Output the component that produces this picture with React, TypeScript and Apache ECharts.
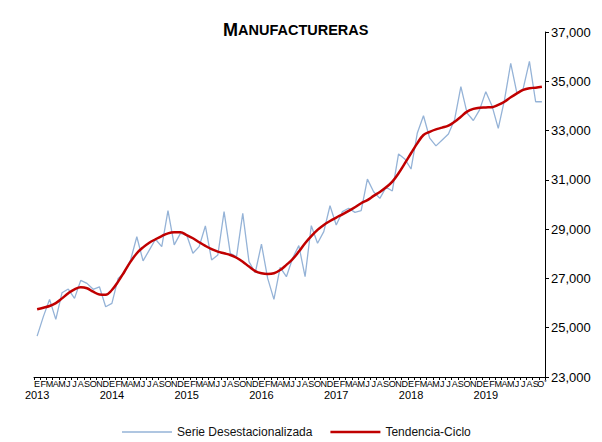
import React, { useEffect, useRef } from "react";
import * as echarts from "echarts";

const years = ["2013", "2014", "2015", "2016", "2017", "2018", "2019"];
const monthLetters = ["E", "F", "M", "A", "M", "J", "J", "A", "S", "O", "N", "D"];

const serieDesest = [
  24660, 25450, 26150, 25340, 26420, 26570, 26190, 26920, 26800, 26560, 26660, 25850,
  25990, 27000, 27230, 27750, 28690, 27710, 28150, 28590, 28290, 29750, 28360, 28830,
  28760, 28020, 28290, 29130, 27750, 27950, 29710, 28020, 27880, 29640, 27680, 27230,
  28390, 27000, 26150, 27450, 27070, 27820, 28330, 27070, 29140, 28430, 28900, 29950,
  29170, 29710, 29850, 29680, 29750, 31030, 30520, 30250, 30700, 30550, 32050, 31850,
  31440, 32890, 33600, 32690, 32380, 32620, 32860, 33450, 34780, 33710, 33410, 33840,
  34580, 34000, 33090, 34250, 35730, 34510, 34700, 35810, 34170, 34170,
];

const tendenciaCiclo = [
  25750, 25810, 25880, 26000, 26190, 26400, 26560, 26640, 26600, 26460, 26350, 26340,
  26530, 26870, 27270, 27680, 28020, 28260, 28450, 28590, 28720, 28830, 28870, 28870,
  28760, 28630, 28470, 28320, 28190, 28090, 28020, 27950, 27840, 27680, 27480, 27300,
  27210, 27180, 27210, 27340, 27550, 27780, 28090, 28430, 28720, 28970, 29170, 29330,
  29470, 29600, 29740, 29890, 30050, 30180, 30350, 30510, 30700, 30930, 31270, 31670,
  32080, 32480, 32820, 32950, 33050, 33120, 33200, 33360, 33560, 33770, 33880, 33930,
  33940, 33950, 34040, 34170, 34350, 34510, 34650, 34720, 34740, 34780,
];

const categories: string[] = serieDesest.map((_, i) => {
  const y = years[Math.floor(i / 12)];
  return `${y}-${i % 12}`;
});

const FONT = "'Liberation Sans', Arial, sans-serif";

export default function App() {
  const ref = useRef<HTMLDivElement>(null);
  useEffect(() => {
    if (!ref.current) return;
    const chart = echarts.init(ref.current, undefined, { renderer: "svg" });
    const lastIdx = categories.length - 1;
    chart.setOption({
      animation: false,
      backgroundColor: "#ffffff",
      title: {
        text: "{a|M}{b|ANUFACTURERAS}",
        left: 218,
        top: 16,
        textStyle: {
          rich: {
            a: { fontSize: 18, fontWeight: "bold", color: "#000", fontFamily: FONT },
            b: { fontSize: 14.5, fontWeight: "bold", color: "#000", fontFamily: FONT },
          },
        },
      },
      legend: {
        left: 117,
        top: 421,
        itemWidth: 50,
        itemHeight: 3,
        itemGap: 18,
        symbolKeepAspect: true,
        textStyle: { fontFamily: FONT, fontSize: 12, color: "#111" },
        data: [
          {
            name: "Serie Desestacionalizada",
            icon: "path://M0,0H50V1.3H0Z",
            itemStyle: { color: "#95B3D7" },
          },
          {
            name: "Tendencia-Ciclo",
            icon: "path://M0,0H50V2.5H0Z",
            itemStyle: { color: "#C00000" },
          },
        ],
      },
      grid: { left: 34, right: 57, top: 32, bottom: 65 },
      xAxis: [
        {
          type: "category",
          data: categories,
          boundaryGap: true,
          axisLine: { show: true, lineStyle: { color: "#000", width: 1 } },
          axisTick: { show: true, interval: 0, length: 3, lineStyle: { color: "#000" } },
          axisLabel: {
            interval: 0,
            margin: 2,
            fontSize: 9,
            fontFamily: FONT,
            color: "#000",
            formatter: (_v: string, idx: number) => {
              const l = monthLetters[idx % 12];
              return idx === lastIdx ? "{m|" + l + "}{s|*}" : l;
            },
            rich: {
              m: { fontSize: 9, fontFamily: FONT, color: "#000" },
              s: { fontSize: 6, fontFamily: FONT, color: "#000", verticalAlign: "top" },
            },
          },
        },
        {
          type: "category",
          data: categories,
          position: "bottom",
          boundaryGap: true,
          axisLine: { show: false },
          axisTick: { show: false },
          axisLabel: {
            interval: 0,
            margin: 12,
            fontSize: 11,
            fontFamily: FONT,
            color: "#000",
            formatter: (_v: string, idx: number) => (idx % 12 === 0 ? years[idx / 12] : ""),
          },
        },
      ],
      yAxis: {
        type: "value",
        position: "right",
        min: 23000,
        max: 37000,
        interval: 2000,
        splitLine: { show: false },
        axisLine: { show: true, lineStyle: { color: "#000", width: 1 } },
        axisTick: { show: true, inside: false, length: 4, lineStyle: { color: "#000" } },
        axisLabel: {
          margin: 6,
          fontSize: 13,
          fontFamily: FONT,
          color: "#000",
          formatter: (v: number) => v.toLocaleString("en-US"),
        },
      },
      series: [
        {
          name: "Serie Desestacionalizada",
          type: "line",
          data: serieDesest,
          symbol: "none",
          lineStyle: { color: "#95B3D7", width: 1.3 },
          itemStyle: { color: "#95B3D7" },
          z: 2,
        },
        {
          name: "Tendencia-Ciclo",
          type: "line",
          data: tendenciaCiclo,
          symbol: "none",
          smooth: 0.4,
          lineStyle: { color: "#C00000", width: 2.5 },
          itemStyle: { color: "#C00000" },
          z: 3,
        },
      ],
    });
    return () => chart.dispose();
  }, []);
  return (
    <div
      ref={ref}
      style={{ position: "fixed", left: 0, top: 0, width: 602, height: 442 }}
    />
  );
}
